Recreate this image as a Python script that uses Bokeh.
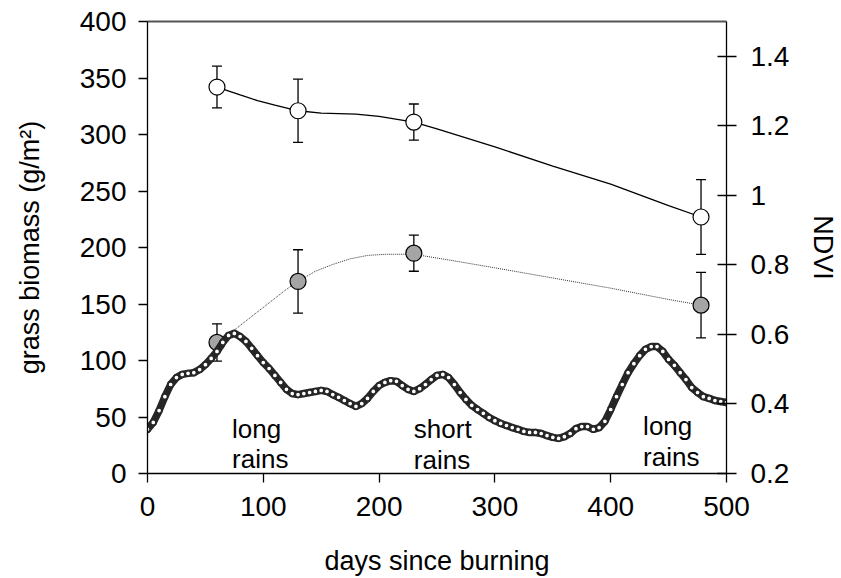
from bokeh.plotting import figure
from bokeh.models import (Range1d, LinearAxis, FixedTicker, CustomJSTickFormatter,
                          ColumnDataSource)
from bokeh.core.properties import value
from bokeh.embed import file_html
from bokeh.resources import INLINE

FONT = "Liberation Sans"
TICK_SIZE = "28px"
LABEL_SIZE = "27px"
NOTE_SIZE = "26px"

# --- NDVI time series (every 5 days since the burn) ---
ndvi_days = list(range(0, 505, 5))
ndvi = [
    0.327, 0.347, 0.381, 0.421, 0.456, 0.476, 0.485, 0.488, 0.490, 0.499,
    0.513, 0.531, 0.551, 0.577, 0.597, 0.603, 0.594, 0.580, 0.560, 0.539,
    0.519, 0.502, 0.482, 0.462, 0.442, 0.430, 0.427, 0.430, 0.433, 0.436,
    0.439, 0.436, 0.427, 0.419, 0.410, 0.401, 0.393, 0.401, 0.416, 0.436,
    0.453, 0.462, 0.467, 0.465, 0.453, 0.442, 0.436, 0.444, 0.456, 0.470,
    0.482, 0.485, 0.476, 0.456, 0.433, 0.413, 0.396, 0.384, 0.373, 0.361,
    0.352, 0.344, 0.338, 0.332, 0.327, 0.321, 0.318, 0.318, 0.315, 0.309,
    0.304, 0.301, 0.306, 0.315, 0.329, 0.335, 0.335, 0.327, 0.332, 0.350,
    0.384, 0.421, 0.456, 0.490, 0.516, 0.539, 0.557, 0.565, 0.565, 0.551,
    0.528, 0.511, 0.490, 0.470, 0.447, 0.433, 0.421, 0.416, 0.410, 0.407,
    0.404,
]

# --- grass biomass samples (g/m2), mean and error ---
sample_days = [60, 130, 230, 478]
biomass_open = [342, 321, 311, 227]
biomass_open_err = [18.5, 28, 16, 33]
biomass_filled = [116, 170, 195, 149]
biomass_filled_err = [16.5, 28, 16, 29]

# --- smoothed trend curves through the biomass samples ---
open_trend_days = [60, 80, 95, 110, 130, 150, 180, 200, 230, 250, 300, 350, 400, 450, 478]
open_trend = [342, 335, 330, 326, 321, 319, 318, 316, 311, 305, 289, 272, 256, 237, 227]
filled_trend_days = [60, 70, 80, 90, 100, 110, 120, 130, 145, 160, 175, 190, 205,
                     220, 230, 260, 300, 350, 400, 450, 478]
filled_trend = [116, 123, 131, 139, 147, 155, 163, 170, 179, 185, 190, 193, 194,
                194, 194, 189, 182, 173, 164, 154, 149]

x_ticks = [0, 100, 200, 300, 400, 500]
y_ticks = [0, 50, 100, 150, 200, 250, 300, 350, 400]
ndvi_ticks = [0.2, 0.4, 0.6, 0.8, 1.0, 1.2, 1.4]

p = figure(width=841, height=578, output_backend="svg", toolbar_location=None,
           x_range=Range1d(0, 500), y_range=Range1d(0, 400),
           min_border_left=147, min_border_right=114,
           min_border_top=21, min_border_bottom=104)
p.extra_y_ranges = {"ndvi": Range1d(0.2, 1.5)}
p.xgrid.visible = False
p.ygrid.visible = False
p.outline_line_color = None
p.background_fill_color = "white"
p.border_fill_color = "white"


def style_axis(ax):
    ax.axis_line_color = "black"
    ax.axis_line_width = 1.3
    ax.major_tick_line_color = "black"
    ax.major_tick_line_width = 1.3
    ax.minor_tick_line_color = None
    ax.major_label_text_font = FONT
    ax.major_label_text_font_size = TICK_SIZE
    ax.major_label_text_color = "black"
    ax.axis_label_text_font = FONT
    ax.axis_label_text_font_size = LABEL_SIZE
    ax.axis_label_text_font_style = "normal"
    ax.axis_label_text_color = "black"


xa = p.xaxis[0]
style_axis(xa)
xa.ticker = FixedTicker(ticks=x_ticks)
xa.axis_label = "days since burning"
xa.major_tick_in = 0
xa.major_tick_out = 9
xa.major_label_standoff = 14
xa.axis_label_standoff = 27

ya = p.yaxis[0]
style_axis(ya)
ya.ticker = FixedTicker(ticks=y_ticks)
ya.axis_label = "grass biomass (g/m\u00b2)"
ya.major_tick_in = 0
ya.major_tick_out = 9
ya.major_label_standoff = 12
ya.axis_label_standoff = 32

ra = LinearAxis(y_range_name="ndvi", axis_label="NDVI")
style_axis(ra)
ra.ticker = FixedTicker(ticks=ndvi_ticks)
ra.formatter = CustomJSTickFormatter(code="return (Math.round(tick * 10) / 10).toString();")
ra.major_tick_in = 9
ra.major_tick_out = 10
ra.major_label_standoff = 14
ra.axis_label_standoff = 16
p.add_layout(ra, "right")

# plain grey rule along the top of the frame
ta = LinearAxis(ticker=FixedTicker(ticks=[]), axis_line_color="#555555",
                axis_line_width=2, major_tick_line_color=None,
                minor_tick_line_color=None, major_label_text_font_size="0px")
p.add_layout(ta, "above")

# trend curves
p.line(open_trend_days, open_trend, line_color="black", line_width=1.3)
p.line(filled_trend_days, filled_trend, line_color="#333333", line_width=1,
       line_dash="1 1")

# error bars
bio = ColumnDataSource(dict(
    day=sample_days,
    open_lo=[v - e for v, e in zip(biomass_open, biomass_open_err)],
    open_hi=[v + e for v, e in zip(biomass_open, biomass_open_err)],
    filled_lo=[v - e for v, e in zip(biomass_filled, biomass_filled_err)],
    filled_hi=[v + e for v, e in zip(biomass_filled, biomass_filled_err)],
    open=biomass_open, filled=biomass_filled,
))
for lo, hi in (("open_lo", "open_hi"), ("filled_lo", "filled_hi")):
    p.segment(x0="day", y0=lo, x1="day", y1=hi, source=bio,
              line_color="black", line_width=1.3)
    p.scatter(x="day", y=lo, source=bio, marker="dash", size=10,
              line_color="black", line_width=1.3)
    p.scatter(x="day", y=hi, source=bio, marker="dash", size=10,
              line_color="black", line_width=1.3)

p.scatter(x="day", y="open", source=bio, marker="circle", size=16,
          fill_color="white", line_color="black", line_width=1.2)
p.scatter(x="day", y="filled", source=bio, marker="circle", size=16,
          fill_color="#a5a5a5", line_color="black", line_width=1.2)

# NDVI series on the right-hand scale: dense ring markers over a dark band
p.line(ndvi_days, ndvi, y_range_name="ndvi", line_color="#262626",
       line_width=7.5, line_join="round", line_cap="round")
p.scatter(ndvi_days, ndvi, y_range_name="ndvi", marker="circle", size=5.5,
          fill_color="white", line_color="#262626", line_width=1.8)

# season labels
season_x = [73, 73, 230, 230, 428, 428]
season_y = [39, 13, 39, 12, 42, 15]
season_text = ["long", "rains", "short", "rains", "long", "rains"]
p.text(x=season_x, y=season_y, text=season_text, text_font=value(FONT),
       text_font_size=value(NOTE_SIZE), text_align="left",
       text_baseline="alphabetic", text_color="black")

open("out.html", "w").write(file_html(p, INLINE))
